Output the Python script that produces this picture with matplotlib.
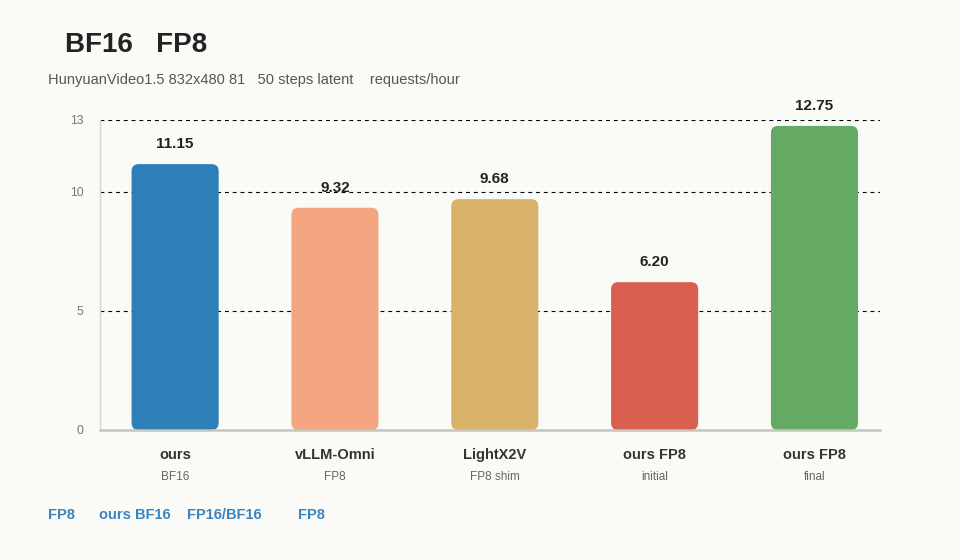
import matplotlib.pyplot as plt
from matplotlib.patches import FancyBboxPatch
from matplotlib.transforms import blended_transform_factory

plt.rcParams['font.family'] = ['Liberation Sans', 'DejaVu Sans']

# data
methods = ['ours', 'vLLM-Omni', 'LightX2V', 'ours FP8', 'ours FP8']
variants = ['BF16', 'FP8', 'FP8 shim', 'initial', 'final']
throughput = [11.15, 9.32, 9.68, 6.20, 12.75]
colors = ['#2e7fb8', '#f4a683', '#d8b269', '#d9604e', '#64a964']
yticks = [0, 5, 10, 13]

title = 'BF16   FP8'
subtitle = 'HunyuanVideo1.5 832x480 81   50 steps latent    requests/hour'
footer = ['FP8', 'ours BF16', 'FP16/BF16', 'FP8']

bg = '#fafaf7'
fig = plt.figure(figsize=(9.6, 5.6), dpi=100, facecolor=bg)
ax = fig.add_axes([100 / 960, 1 - 430 / 560, 780 / 960, 310 / 560])
ax.set_facecolor(bg)

x = list(range(len(methods)))
width = 0.545
bars = ax.bar(x, throughput, width=width, color='none', edgecolor='none')
# rounded bars
for b, c in zip(bars, colors):
    p = FancyBboxPatch((b.get_x(), 0), b.get_width(), b.get_height(),
                       boxstyle='round,pad=0,rounding_size=0.045',
                       mutation_aspect=6.7, facecolor=c, edgecolor='none',
                       zorder=3)
    ax.add_patch(p)

for xi, v in zip(x, throughput):
    ax.annotate(f'{v:.2f}', (xi, v), xytext=(0, 14.5), textcoords='offset points',
                ha='center', va='center', fontsize=11, fontweight='bold',
                color='#222222', zorder=4)

ax.set_xlim(-0.47, 4.41)
ax.set_ylim(0, 13)
ax.set_yticks(yticks)
ax.set_xticks([])
ax.tick_params(axis='y', length=0, pad=12, labelsize=8.8, labelcolor='#777777')
for yv in yticks[1:]:
    ax.axhline(yv, color='black', lw=0.8, ls=(0, (3.5, 3.5)), zorder=1)

for s in ['top', 'right']:
    ax.spines[s].set_visible(False)
ax.spines['left'].set_color('#d4d4d0')
ax.spines['left'].set_linewidth(1)
ax.spines['bottom'].set_color('#c4c4c0')
ax.spines['bottom'].set_linewidth(1.8)
ax.spines['bottom'].set_zorder(5)

tr = blended_transform_factory(ax.transData, ax.transAxes)
for xi, m, v in zip(x, methods, variants):
    ax.text(xi, -0.08, m, transform=tr, ha='center', va='center',
            fontsize=10.5, fontweight='bold', color='#333333')
    ax.text(xi, -0.151, v, transform=tr, ha='center', va='center',
            fontsize=8.5, color='#666666')

fig.text(65 / 960, 1 - 45 / 560, title, fontsize=20, fontweight='bold',
         color='#222222', va='center', ha='left')
fig.text(48 / 960, 1 - 80 / 560, subtitle, fontsize=10.5, color='#555555',
         va='center', ha='left')

for fx, t in zip([48, 99, 187, 298], footer):
    fig.text(fx / 960, 1 - 515 / 560, t, fontsize=10.5, fontweight='bold',
             color='#3a85c0', va='center', ha='left')

fig.savefig('out.png', dpi=100, facecolor=bg)
